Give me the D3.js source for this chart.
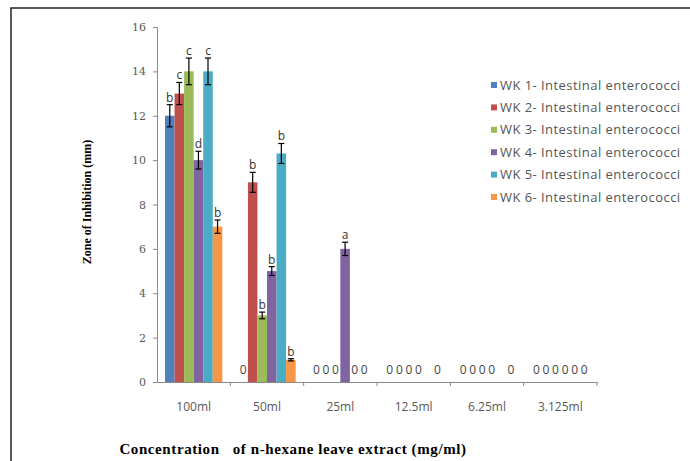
<!DOCTYPE html>
<html>
<head>
<meta charset="utf-8">
<script src="https://cdn.jsdelivr.net/npm/d3@7"></script>
<style>
  body { margin: 0; background: #fff; }
  .tick text { fill: #595959; }
</style>
</head>
<body>
<script>
// chart data
var concentrations = ["100ml", "50ml", "25ml", "12.5ml", "6.25ml", "3.125ml"];
var seriesNames = ["WK 1- Intestinal enterococci", "WK 2- Intestinal enterococci", "WK 3- Intestinal enterococci",
                   "WK 4- Intestinal enterococci", "WK 5- Intestinal enterococci", "WK 6- Intestinal enterococci"];
var colors = ["#4F81BD", "#C0504D", "#9BBB59", "#8064A2", "#4BACC6", "#F79646"];

// values per series, one per concentration
var wk1 = [12, 0, 0, 0, 0, 0];
var wk2 = [13, 9, 0, 0, 0, 0];
var wk3 = [14, 3, 0, 0, 0, 0];
var wk4 = [10, 5, 6, 0, 0, 0];
var wk5 = [14, 10.3, 0, 0, 0, 0];
var wk6 = [7, 1, 0, 0, 0, 0];
var values = [wk1, wk2, wk3, wk4, wk5, wk6];

// error (+/-) per series
var err1 = [0.5, 0, 0, 0, 0, 0];
var err2 = [0.5, 0.45, 0, 0, 0, 0];
var err3 = [0.6, 0.15, 0, 0, 0, 0];
var err4 = [0.4, 0.2, 0.3, 0, 0, 0];
var err5 = [0.6, 0.45, 0, 0, 0, 0];
var err6 = [0.3, 0.05, 0, 0, 0, 0];
var errors = [err1, err2, err3, err4, err5, err6];

// letters written on top of bars
var lab1 = ["b", "0", "0", "0", "0", "0"];
var lab2 = ["c", "b", "0", "0", "0", "0"];
var lab3 = ["c", "b", "0", "0", "0", "0"];
var lab4 = ["d", "b", "a", "0", "0", "0"];
var lab5 = ["c", "b", "0", "", "", "0"];
var lab6 = ["b", "b", "0", "0", "0", "0"];
var letters = [lab1, lab2, lab3, lab4, lab5, lab6];

var yTicks = [0, 2, 4, 6, 8, 10, 12, 14, 16];

var w = 690, h = 461;
var plotL = 157, plotR = 597, plotT = 27, plotB = 382;

window.onload = function(){
    var svg = d3.select("body").append("svg")
        .attr("width", w)
        .attr("height", h);

    // outer chart border
    svg.append("rect")
        .attr("x", 11).attr("y", 8)
        .attr("width", w).attr("height", h)
        .style("fill", "none")
        .style("stroke", "#222")
        .style("stroke-width", 1.5);

    var x = d3.scaleBand()
        .domain(concentrations)
        .range([plotL, plotR]);

    var x1 = d3.scaleBand()
        .domain(d3.range(6))
        .range([8, x.bandwidth() - 8]);

    var y = d3.scaleLinear()
        .domain([0, 16])
        .range([plotB, plotT]);

    // flatten into one row per bar
    var bars = [];
    values.forEach(function(s, i){
        s.forEach(function(v, j){
            bars.push({s: i, c: concentrations[j], v: v, e: errors[i][j], lab: letters[i][j]});
        });
    });

    function cx(d){ return x(d.c) + x1(d.s) + x1.bandwidth() / 2; }

    // bars
    svg.selectAll(".bar")
        .data(bars.filter(function(d){ return d.v > 0; }))
        .enter()
        .append("rect")
        .attr("class", "bar")
        .attr("x", function(d){ return x(d.c) + x1(d.s); })
        .attr("width", x1.bandwidth())
        .attr("y", function(d){ return y(d.v); })
        .attr("height", function(d){ return y(0) - y(d.v); })
        .style("fill", function(d){ return colors[d.s]; });

    // error bars
    var eb = svg.selectAll(".err")
        .data(bars.filter(function(d){ return d.v > 0; }))
        .enter()
        .append("g")
        .attr("class", "err")
        .style("stroke", "#000")
        .style("stroke-width", 1.2);

    eb.append("line")
        .attr("x1", cx)
        .attr("x2", cx)
        .attr("y1", function(d){ return y(d.v - d.e); })
        .attr("y2", function(d){ return y(d.v + d.e); });
    [-1, 1].forEach(function(k){
        eb.append("line")
            .attr("x1", function(d){ return cx(d) - 3; })
            .attr("x2", function(d){ return cx(d) + 3; })
            .attr("y1", function(d){ return y(d.v + k * d.e); })
            .attr("y2", function(d){ return y(d.v + k * d.e); });
    });

    // letters and zeros
    svg.selectAll(".lab")
        .data(bars)
        .enter()
        .append("text")
        .attr("class", "lab")
        .attr("text-anchor", "middle")
        .attr("x", cx)
        .attr("y", function(d){ return d.v > 0 ? y(d.v + d.e) - 3 : y(0) - 8; })
        .style("font-family", "'Open Sans', sans-serif")
        .style("font-size", "12px")
        .style("fill", function(d){ return d.v > 0 ? "#333" : "#444"; })
        .text(function(d){ return d.lab; });

    // axes
    var yAxis = svg.append("g")
        .attr("transform", "translate(" + plotL + ",0)")
        .call(d3.axisLeft(y).tickValues(yTicks).tickSize(4).tickPadding(7));
    yAxis.selectAll("text")
        .style("font-family", "'DejaVu Serif', serif")
        .style("font-size", "11px");

    var xAxis = svg.append("g")
        .attr("transform", "translate(0," + plotB + ")")
        .call(d3.axisBottom(x).tickSize(0).tickPadding(20));
    xAxis.selectAll("text")
        .style("font-family", "'Open Sans', sans-serif")
        .style("font-size", "12px");
    // category boundary ticks
    xAxis.selectAll(".bound")
        .data(concentrations)
        .enter()
        .append("line")
        .attr("class", "bound")
        .attr("x1", function(d){ return x(d) + x.bandwidth(); })
        .attr("x2", function(d){ return x(d) + x.bandwidth(); })
        .attr("y1", 0).attr("y2", 4)
        .style("stroke", "#888");
    svg.selectAll(".domain").style("stroke", "#888");
    svg.selectAll(".tick line").style("stroke", "#888");

    // axis titles
    svg.append("text")
        .attr("x", 293).attr("y", 454)
        .attr("text-anchor", "middle")
        .style("font-family", "'Liberation Serif', serif")
        .style("font-weight", "bold")
        .style("font-size", "15px")
        .style("letter-spacing", "0.6px")
        .style("white-space", "pre")
        .text("Concentration   of n-hexane leave extract (mg/ml)");

    svg.append("text")
        .attr("transform", "translate(91,202) rotate(-90)")
        .attr("text-anchor", "middle")
        .style("font-family", "'Liberation Serif', serif")
        .style("font-weight", "bold")
        .style("font-size", "12px")
        .text("Zone of Inhibition (mm)");

    // legend
    var legend = svg.selectAll(".legend")
        .data(seriesNames)
        .enter()
        .append("g")
        .attr("class", "legend")
        .attr("transform", function(d, i){ return "translate(491," + (85 + i * 22.4) + ")"; });
    legend.append("rect")
        .attr("x", 0).attr("y", -3)
        .attr("width", 6).attr("height", 6)
        .style("fill", function(d, i){ return colors[i]; });
    legend.append("text")
        .attr("x", 9).attr("y", 4.5)
        .style("font-family", "'Open Sans', sans-serif")
        .style("font-size", "13px")
        .style("letter-spacing", "0.45px")
        .style("fill", "#555")
        .text(function(d){ return d; });
};
</script>
</body>
</html>
